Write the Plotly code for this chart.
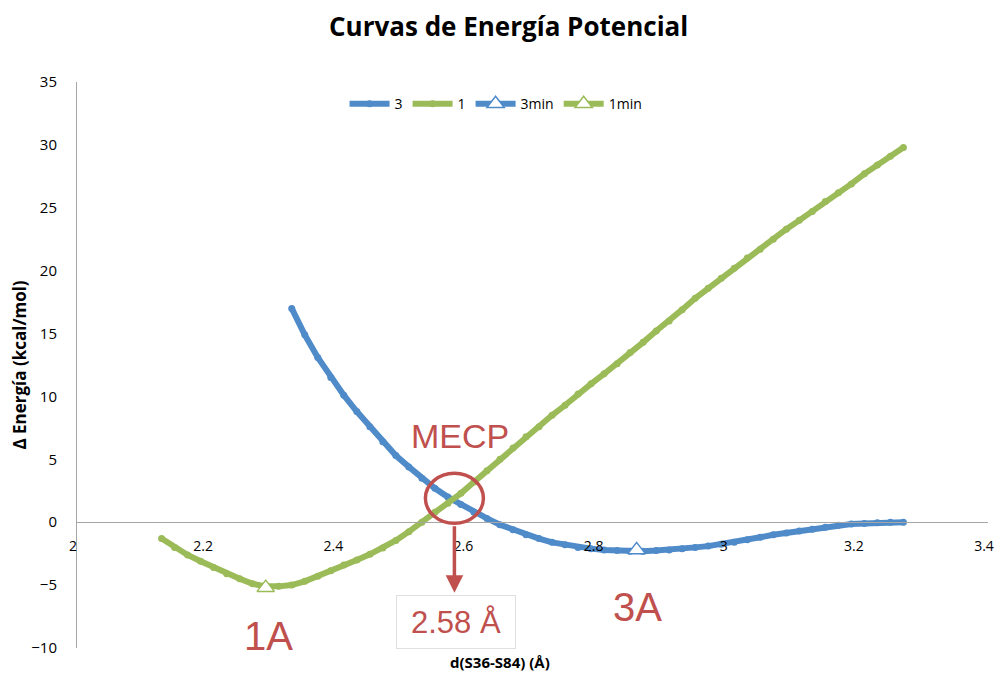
import plotly.graph_objects as go

# ---- data ----
d_1 = [2.13, 2.15, 2.17, 2.19, 2.21, 2.23, 2.25, 2.27, 2.29, 2.31, 2.33, 2.35, 2.37, 2.39,
       2.41, 2.43, 2.45, 2.47, 2.49, 2.51, 2.53, 2.55, 2.57, 2.59, 2.61, 2.63, 2.65, 2.67,
       2.69, 2.71, 2.73, 2.75, 2.77, 2.79, 2.81, 2.83, 2.85, 2.87, 2.89, 2.91, 2.93, 2.95,
       2.97, 2.99, 3.01, 3.03, 3.05, 3.07, 3.09, 3.11, 3.13, 3.15, 3.17, 3.19, 3.21, 3.23,
       3.25, 3.27]
e_1 = [-1.3, -2.0, -2.6, -3.1, -3.6, -4.1, -4.5, -4.9, -5.1, -5.1, -5.0, -4.7, -4.3, -3.85,
       -3.4, -3.0, -2.55, -2.05, -1.45, -0.75, 0.0, 0.8, 1.5, 2.3, 3.2, 4.1, 5.0, 5.9,
       6.8, 7.6, 8.5, 9.3, 10.2, 11.0, 11.8, 12.6, 13.5, 14.3, 15.2, 16.0, 16.9, 17.8,
       18.6, 19.4, 20.2, 21.0, 21.7, 22.5, 23.3, 24.0, 24.7, 25.5, 26.2, 26.9, 27.7, 28.4,
       29.1, 29.8]

d_3 = [2.33, 2.35, 2.37, 2.39, 2.41, 2.43, 2.45, 2.47, 2.49, 2.51, 2.53, 2.55, 2.57, 2.59,
       2.61, 2.63, 2.65, 2.67, 2.69, 2.71, 2.73, 2.75, 2.77, 2.79, 2.81, 2.83, 2.85, 2.87,
       2.89, 2.91, 2.93, 2.95, 2.97, 2.99, 3.01, 3.03, 3.05, 3.07, 3.09, 3.11, 3.13, 3.15,
       3.17, 3.19, 3.21, 3.23, 3.25, 3.27]
e_3 = [17.0, 14.9, 13.1, 11.5, 10.1, 8.8, 7.6, 6.4, 5.3, 4.4, 3.5, 2.7, 2.0, 1.4,
       0.8, 0.3, -0.2, -0.6, -1.0, -1.3, -1.6, -1.8, -2.0, -2.1, -2.2, -2.25, -2.3, -2.3,
       -2.25, -2.2, -2.1, -2.0, -1.9, -1.75, -1.6, -1.4, -1.2, -1.0, -0.85, -0.7, -0.55, -0.4,
       -0.25, -0.15, -0.1, -0.05, 0.0, 0.0]

min_3 = (2.86, -2.2)
min_1 = (2.29, -5.2)
mecp_d = 2.58
mecp_e = 1.9

x_ticks = [2, 2.2, 2.4, 2.6, 2.8, 3, 3.2, 3.4]
x_tick_text = ["2", "2.2", "2.4", "2.6", "2.8", "3", "3.2", "3.4"]
y_ticks = [-10, -5, 0, 5, 10, 15, 20, 25, 30, 35]

BLUE = "#4f8bc9"
GREEN = "#9bbb59"
RED = "#c0504d"
TXT_FONT = "Open Sans"

fig = go.Figure()
fig.add_trace(go.Scatter(x=d_3, y=e_3, name="3", mode="lines+markers",
                         line=dict(color=BLUE, width=6),
                         marker=dict(color=BLUE, size=7)))
fig.add_trace(go.Scatter(x=d_1, y=e_1, name="1", mode="lines+markers",
                         line=dict(color=GREEN, width=6),
                         marker=dict(color=GREEN, size=7)))
fig.add_trace(go.Scatter(x=[min_3[0]], y=[min_3[1]], name="3min", mode="lines+markers",
                         line=dict(color=BLUE, width=6),
                         marker=dict(symbol="triangle-up", size=15, color="white",
                                     line=dict(color=BLUE, width=1.5))))
fig.add_trace(go.Scatter(x=[min_1[0]], y=[min_1[1]], name="1min", mode="lines+markers",
                         line=dict(color=GREEN, width=6),
                         marker=dict(symbol="triangle-up", size=15, color="white",
                                     line=dict(color=GREEN, width=1.5))))

# MECP circle
fig.add_shape(type="circle", xref="x", yref="y", xsizemode="pixel", ysizemode="pixel",
              xanchor=mecp_d, yanchor=mecp_e, x0=-29, x1=29, y0=-25, y1=25,
              line=dict(color=RED, width=3.5))

annotations = [
    dict(text="<b>Curvas de Energía Potencial</b>", xref="paper", yref="paper",
         x=0.474, y=1, yshift=56, xanchor="center", yanchor="middle", showarrow=False,
         font=dict(family=TXT_FONT, size=26, color="#000")),
    dict(text="<b>d(S36-S84) (Å)</b>", xref="paper", yref="paper",
         x=0.464, y=0, yshift=-14, xanchor="center", yanchor="middle", showarrow=False,
         font=dict(family=TXT_FONT, size=15, color="#000")),
    dict(text="MECP", xref="x", yref="y", x=2.589, y=6.85, showarrow=False,
         font=dict(family="Liberation Sans", size=34, color=RED)),
    dict(text="", xref="x", yref="y", x=mecp_d, y=-5.6, ax=0, ay=-68,
         showarrow=True, arrowhead=2, arrowsize=1, arrowwidth=3.5, arrowcolor=RED),
    dict(text="2.58 Å", xref="x", yref="y", x=2.582, y=-7.95, showarrow=False,
         font=dict(family="Liberation Sans", size=31, color=RED),
         bgcolor="white", bordercolor="#e0e0e0", borderwidth=1, width=116, height=50),
    dict(text="1A", xref="x", yref="y", x=2.294, y=-9.05, showarrow=False,
         font=dict(family="Liberation Sans", size=40, color=RED)),
    dict(text="3A", xref="x", yref="y", x=2.862, y=-6.76, showarrow=False,
         font=dict(family="Liberation Sans", size=40, color=RED)),
]

# the page body adds an 8px offset, so the figure is sized/margined to compensate
fig.update_layout(
    width=994, height=667,
    margin=dict(l=69, r=14, t=74, b=27),
    plot_bgcolor="white", paper_bgcolor="white",
    showlegend=True,
    legend=dict(orientation="h", x=0.46, xanchor="center", y=0.961, yanchor="middle",
                font=dict(family=TXT_FONT, size=14, color="#000"),
                bgcolor="rgba(0,0,0,0)", itemwidth=40, tracegroupgap=0),
    annotations=annotations,
    xaxis=dict(range=[2, 3.4], tickvals=x_ticks, ticktext=x_tick_text, automargin=False,
               showgrid=False, zeroline=False, showline=True, linecolor="#a6a6a6",
               linewidth=1, anchor="free", position=10 / 45,
               ticklabeloverflow="allow", ticklabelshift=-4,
               ticks="outside", ticklen=11, tickcolor="rgba(0,0,0,0)",
               tickfont=dict(family=TXT_FONT, size=14, color="#000")),
    yaxis=dict(range=[-10, 35], tickvals=y_ticks, showgrid=False, zeroline=False,
               automargin=False,
               showline=True, linecolor="#a6a6a6", linewidth=1,
               ticks="outside", ticklen=16, tickcolor="rgba(0,0,0,0)",
               tickfont=dict(family=TXT_FONT, size=15, color="#000"),
               title=dict(text="<b>Δ Energía (kcal/mol)</b>", standoff=6,
                          font=dict(family=TXT_FONT, size=17, color="#000"))),
)

fig.write_html("out.html")
